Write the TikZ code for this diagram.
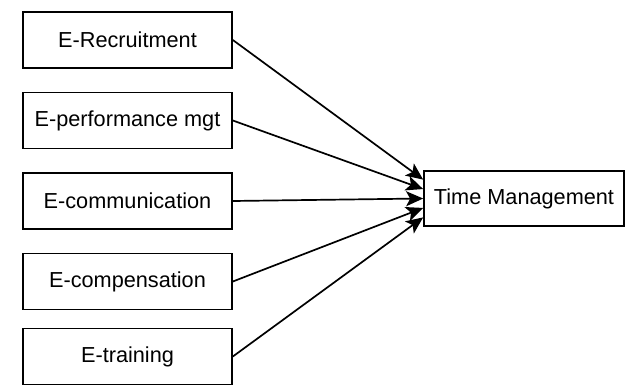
\documentclass[tikz,border=0pt]{standalone}
\usepackage{fontspec}
\setmainfont{Liberation Sans}
\usetikzlibrary{arrows.meta,calc}
\begin{document}
\begin{tikzpicture}[x=1pt,y=-1pt,
  box/.style={draw,line width=1.7pt,minimum width=209pt,minimum height=56pt,inner sep=0pt,font=\fontsize{21.7}{24}\selectfont},
  link/.style={line width=1.7pt,-{Stealth[length=17pt,width=15pt,inset=4pt]}}]
  \useasboundingbox (0,0) rectangle (625,385);
  \node[box] (rec)  at (127.5,40)    {E-Recruitment};
  \node[box] (perf) at (127.5,120.5) {E-performance mgt};
  \node[box] (comm) at (127.5,201)   {E-communication};
  \node[box] (comp) at (127.5,281.5) {E-compensation};
  \node[box] (trn)  at (127.5,356.5) {E-training};
  \node[box,minimum width=200pt,minimum height=55pt] (tm) at (524,198.5) {Time Management};
  \foreach \src [count=\i] in {rec,perf,comm,comp,trn}{
    \draw[link] (\src.east) -- ($(tm.north west)!\i/6!(tm.south west)$);
  }
\end{tikzpicture}
\end{document}
